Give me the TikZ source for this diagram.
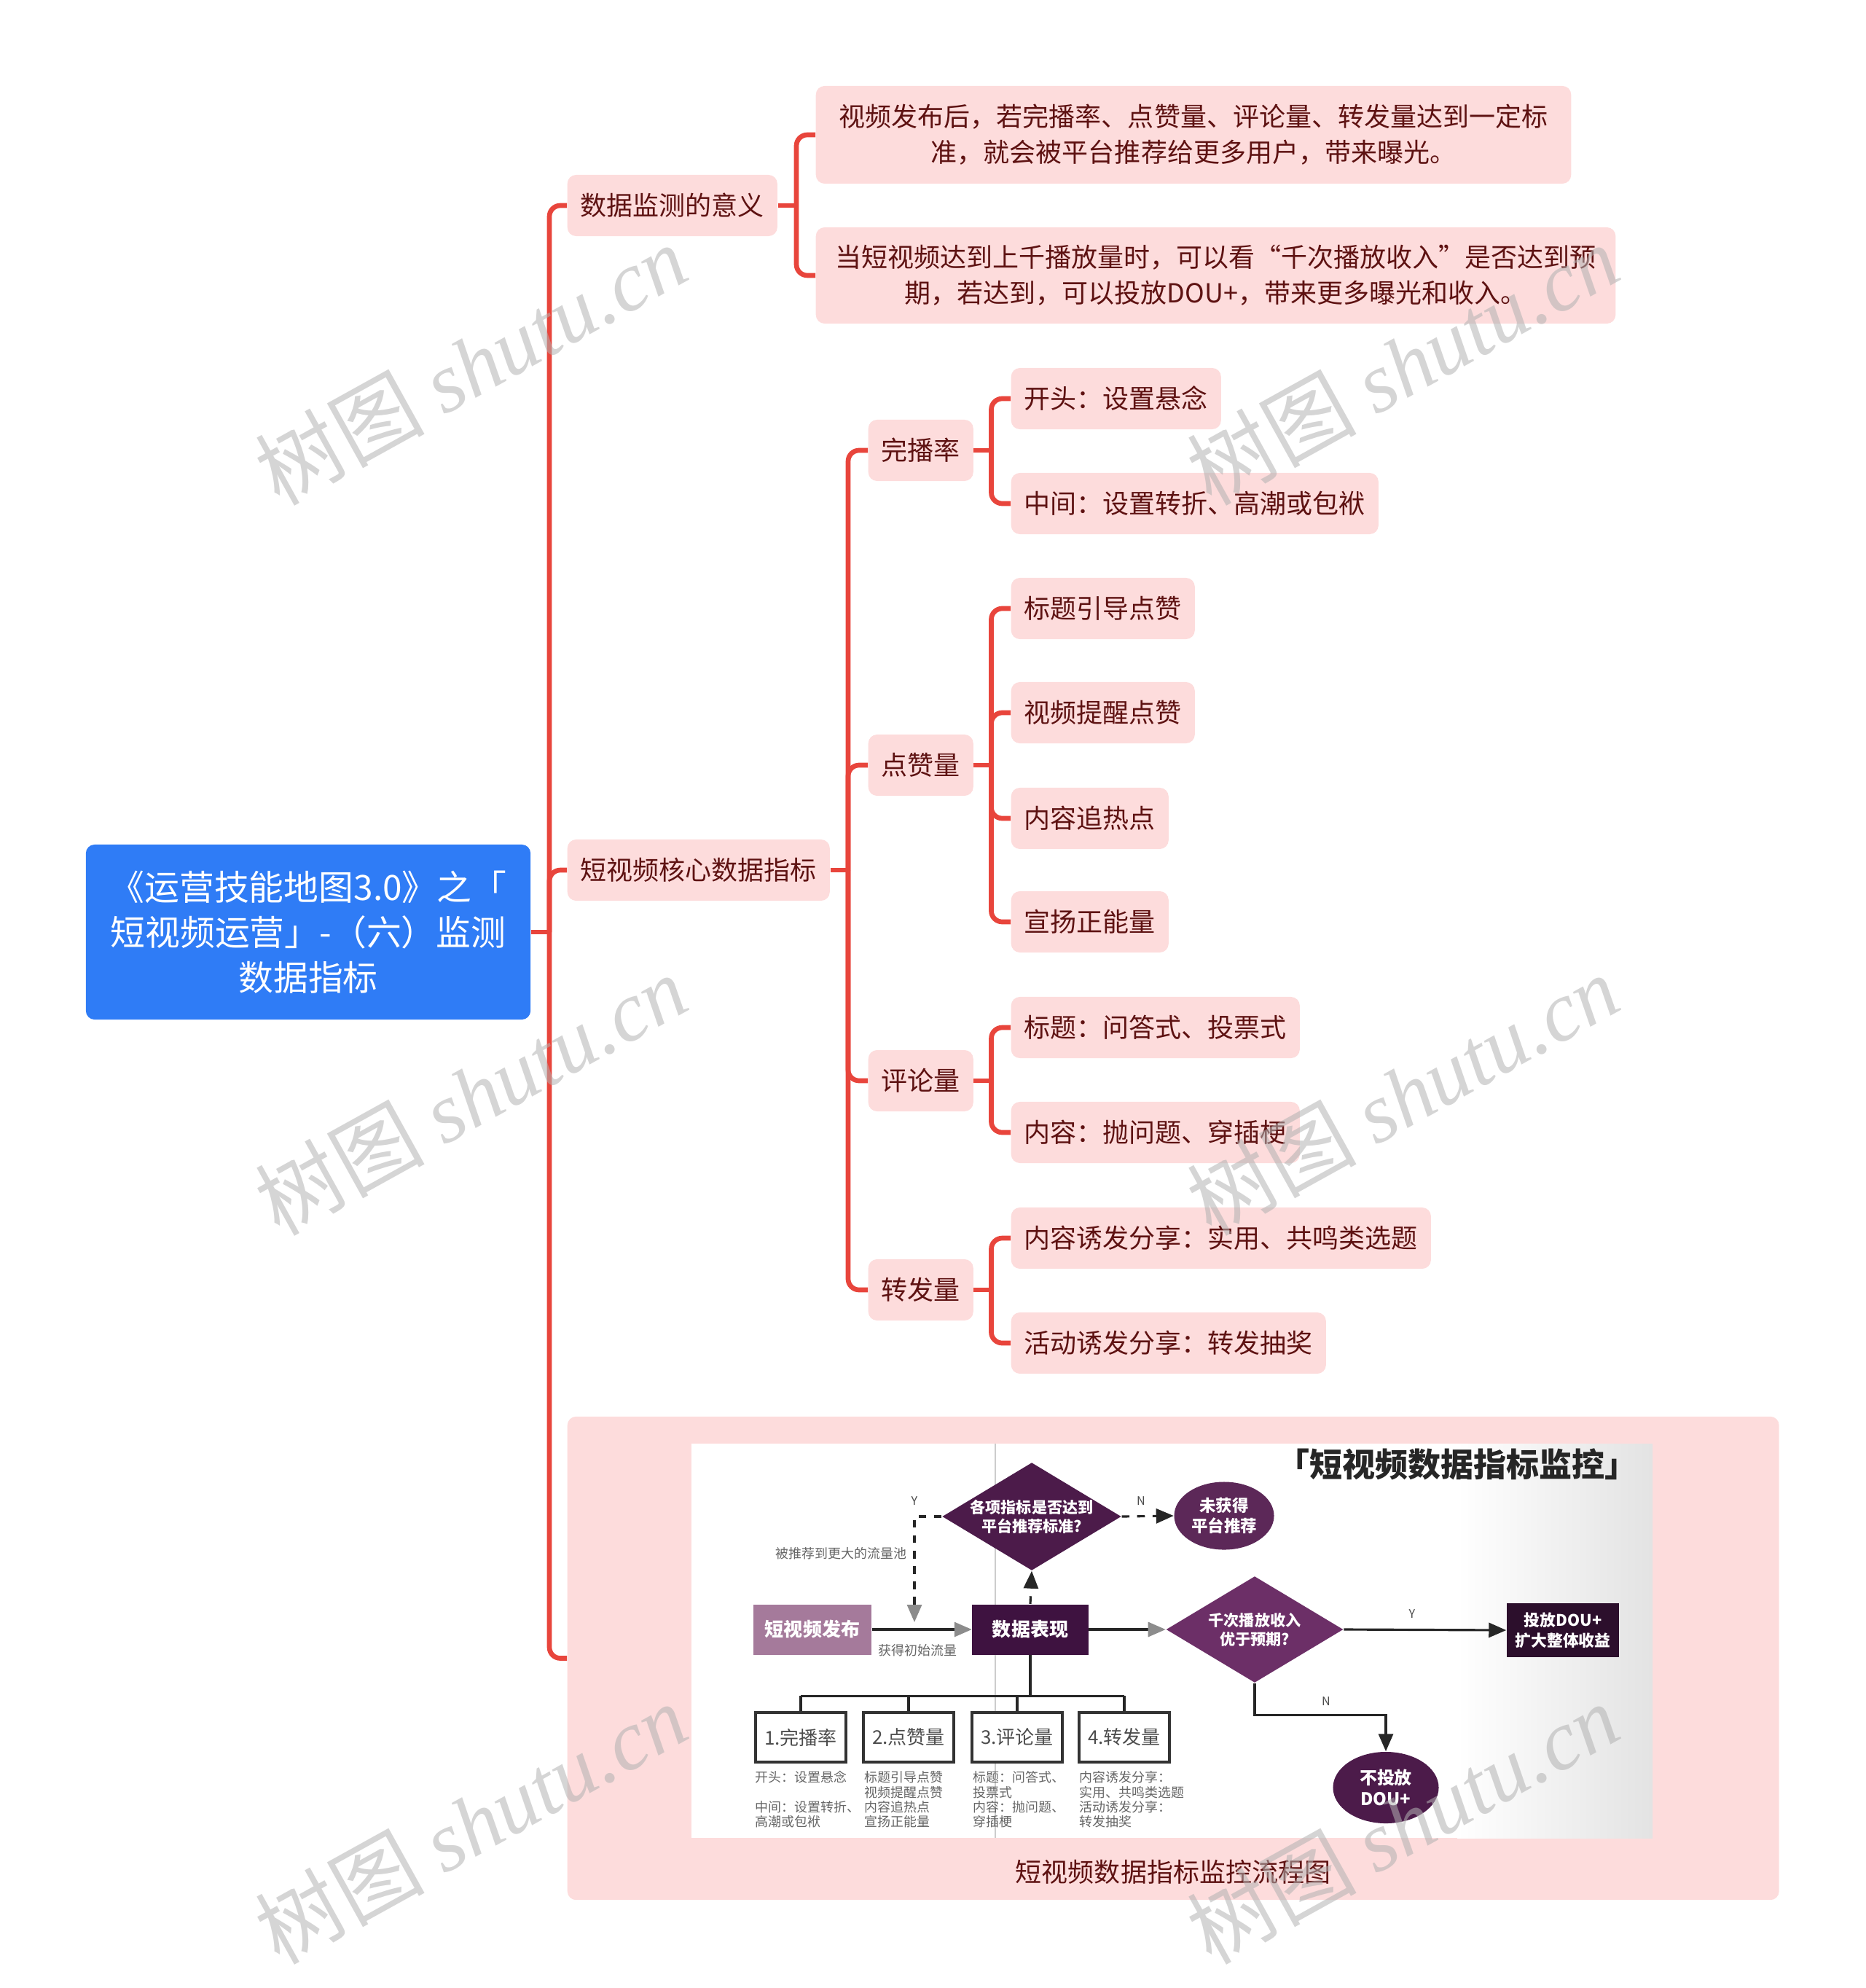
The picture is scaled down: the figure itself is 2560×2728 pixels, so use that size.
\documentclass[tikz,border=0pt]{standalone}
\usepackage{fontspec}
\setmainfont{Noto Sans CJK SC}
\newfontfamily\wmfont{Liberation Serif}
\usetikzlibrary{shapes.geometric,arrows.meta}
\definecolor{rootblue}{HTML}{2F7CF6}
\definecolor{topicpink}{HTML}{FDDCDC}
\definecolor{linkred}{HTML}{E8453C}
\definecolor{topictext}{HTML}{5E1212}
\definecolor{plumdark}{HTML}{3E1240}
\definecolor{plummid}{HTML}{4C1B4A}
\definecolor{plumlight}{HTML}{6C2F67}
\definecolor{plummauve}{HTML}{A57A9B}
\definecolor{plumblack}{HTML}{2C0F2C}
\begin{document}
\begin{tikzpicture}[x=0.01cm,y=-0.01cm,
    topic/.style={fill=topicpink,rounded corners=0.12cm,text=topictext,
      font=\fontsize{10.24}{14}\selectfont,inner xsep=0.18cm,inner ysep=0pt,
      minimum height=0.84cm,anchor=west,align=center},
    link/.style={draw=linkred,line width=1.9pt,rounded corners=0.15cm},
    flow/.style={draw=black!85,line width=0.9pt},
    tipgray/.style={-{Triangle[length=0.24cm,width=0.2cm,color=black!45]}},
    tipblack/.style={-{Triangle[length=0.24cm,width=0.2cm]}},
    plumbox/.style={text=white,font=\fontsize{7.4}{9}\selectfont\bfseries,inner sep=0pt},
    diam/.style={plumbox,diamond,aspect=1.66,minimum width=2.43cm,minimum height=1.46cm,
      font=\fontsize{6}{7.4}\selectfont\bfseries,align=center},
    oval/.style={plumbox,ellipse,align=center,font=\fontsize{6.4}{7.8}\selectfont\bfseries},
    metric/.style={draw=black!80,line width=0.9pt,fill=white,text=black!70,
      font=\fontsize{7.4}{9}\selectfont,minimum width=1.24cm,minimum height=0.68cm,inner sep=0pt},
    note/.style={text=black!60,font=\fontsize{5.1}{6}\selectfont,anchor=west,inner sep=0pt},
    yn/.style={text=black!70,font=\fontsize{4.6}{5}\selectfont,inner sep=0pt},
    wm/.style={rotate=29,text=black!30,opacity=0.55,font=\fontsize{33}{33}\selectfont}]
  \useasboundingbox (0,0) rectangle (2560,2728);

  \node[fill=rootblue,rounded corners=0.12cm,text=white,font=\fontsize{13.6}{17.6}\selectfont,
    align=center,minimum width=6.1cm,minimum height=2.4cm] (root) at (423,1279)
    {《运营技能地图3.0》之「\\短视频运营」-（六）监测\\数据指标};

  \node[topic] (sig) at (778,282) {数据监测的意义};
  \node[topic] (core) at (778,1194) {短视频核心数据指标};
  \node[fill=topicpink,rounded corners=0.12cm,minimum width=16.62cm,minimum height=6.63cm,
    anchor=west] (pic) at (778,2275.5) {};

  \coordinate (trunk) at (754,1279);
  \draw[link] (root.east) -- (trunk);
  \foreach \n in {sig,core,pic} \draw[link] (trunk) |- (\n.west);

  \node[topic,minimum width=10.36cm,minimum height=1.34cm] (sig1) at (1119,185)
    {视频发布后，若完播率、点赞量、评论量、转发量达到一定标\\准，就会被平台推荐给更多用户，带来曝光。};
  \node[topic,minimum width=10.97cm,minimum height=1.32cm] (sig2) at (1119,378)
    {当短视频达到上千播放量时，可以看“千次播放收入”是否达到预\\期，若达到，可以投放DOU+，带来更多曝光和收入。};
  \coordinate (sigfork) at (1093,282);
  \draw[link] (sig.east) -- (sigfork);
  \foreach \n in {sig1,sig2} \draw[link] (sigfork) |- (\n.west);

  \coordinate (corefork) at (1164,1194);
  \draw[link] (core.east) -- (corefork);
  \foreach \n/\y/\t in {wbl/618/完播率,dzl/1050/点赞量,pll/1483/评论量,zfl/1770/转发量} {
    \node[topic] (\n) at (1191,\y) {\t};
    \draw[link] (corefork) |- (\n.west);
    \draw[link] (\n.east) -- ++(24,0) coordinate (\n fork);
  }

  \foreach \n/\y/\t in {wbl1/547/开头：设置悬念, wbl2/691/中间：设置转折、高潮或包袱,
      dzl1/835/标题引导点赞, dzl2/978/视频提醒点赞, dzl3/1123/内容追热点, dzl4/1265/宣扬正能量,
      pll1/1410/标题：问答式、投票式, pll2/1554/内容：抛问题、穿插梗,
      zfl1/1699/内容诱发分享：实用、共鸣类选题, zfl2/1843/活动诱发分享：转发抽奖}
    \node[topic] (\n) at (1387,\y) {\t};
  \foreach \p/\c in {wbl/wbl1,wbl/wbl2,dzl/dzl1,dzl/dzl2,dzl/dzl3,dzl/dzl4,
      pll/pll1,pll/pll2,zfl/zfl1,zfl/zfl2}
    \draw[link] (\p fork) |- (\c.west);

  \fill[white] (949,1981) rectangle (2268,2522);
  \shade[left color=white,right color=black!11] (2000,1981) rectangle (2268,2522);
  \draw[black!20,line width=0.4pt] (1366,1981) -- (1366,2522);
  \node[font=\fontsize{12.8}{14}\selectfont\bfseries,text=black!85,inner sep=0pt] (ftitle)
    at (2000,2009) {「短视频数据指标监控」};

  \node[diam,fill=plummid] (d1) at (1416,2081) {各项指标是否达到\\平台推荐标准?};
  \node[oval,fill=plumlight!85!black,minimum width=1.37cm,minimum height=0.93cm] (nogo)
    at (1680,2080) {未获得\\平台推荐};
  \node[plumbox,fill=plummauve,minimum width=1.62cm,minimum height=0.69cm] (pub)
    at (1115,2236) {短视频发布};
  \node[plumbox,fill=plumdark,minimum width=1.59cm,minimum height=0.69cm] (perf)
    at (1414,2236) {数据表现};
  \node[diam,fill=plumlight] (d2) at (1722,2236) {千次播放收入\\优于预期?};
  \node[plumbox,fill=plumblack,minimum width=1.54cm,minimum height=0.74cm,align=center,
    font=\fontsize{6.2}{8}\selectfont\bfseries] (dou) at (2145,2237) {投放DOU+\\扩大整体收益};
  \node[oval,fill=plummid,minimum width=1.45cm,minimum height=0.98cm,
    font=\fontsize{6.8}{8.4}\selectfont\bfseries] (nodou) at (1902,2453) {不投放\\DOU+};

  \draw[flow,dashed,tipblack] (d1.east) -- (nogo.west);
  \node[yn] (nlab1) at (1566,2060) {N};
  \coordinate (pool) at (1255,2226);
  \draw[flow,dashed,tipgray] (d1.west) -| (pool);
  \node[yn] (ylab1) at (1255,2060) {Y};
  \node[note,anchor=east] (poollab) at (1245,2132) {被推荐到更大的流量池};
  \draw[flow,tipgray] (pub.east) -- (perf.west);
  \node[note] (initlab) at (1205,2265) {获得初始流量};
  \draw[flow,dashed,tipblack] (perf.north) -- (d1.south);
  \draw[flow,tipgray] (perf.east) -- (d2.west);
  \draw[flow,tipblack] (d2.east) -- (dou.west);
  \node[yn] (ylab2) at (1938,2215) {Y};
  \draw[flow,tipblack] (d2.south) -- ++(0,44) -| (nodou.north);
  \node[yn] (nlab2) at (1820,2335) {N};

  \foreach \n/\x/\t in {b1/1099/1.完播率,b2/1247/2.点赞量,b3/1396/3.评论量,b4/1543/4.转发量}
    \node[metric] (\n) at (\x,2384) {\t};
  \draw[flow] (perf.south) -- ++(0,56) coordinate (bar);
  \draw[flow] (b1.north |- bar) -- (b4.north |- bar);
  \foreach \n in {b1,b2,b3,b4} \draw[flow] (\n.north |- bar) -- (\n.north);

  \foreach \x/\y/\t [count=\i] in {1036/2439/开头：设置悬念, 1036/2480/中间：设置转折、,
      1036/2500/高潮或包袱, 1186/2439/标题引导点赞, 1186/2460/视频提醒点赞,
      1186/2480/内容追热点, 1186/2500/宣扬正能量, 1335/2439/标题：问答式、,
      1335/2460/投票式, 1335/2480/内容：抛问题、, 1335/2500/穿插梗,
      1481/2439/内容诱发分享：, 1481/2460/实用、共鸣类选题, 1481/2480/活动诱发分享：,
      1481/2500/转发抽奖}
    \node[note] (note\i) at (\x,\y) {\t};

  \node[text=topictext,font=\fontsize{10.24}{12}\selectfont,inner sep=0pt] (cap)
    at (1610,2569) {短视频数据指标监控流程图};

  \foreach \x/\y [count=\i] in {646/500,646/1502,646/2502,1925/500,1925/1502,1925/2502}
    \node[wm] (wm\i) at (\x,\y) {树图 {\wmfont\itshape shutu.cn}};
\end{tikzpicture}
\end{document}
